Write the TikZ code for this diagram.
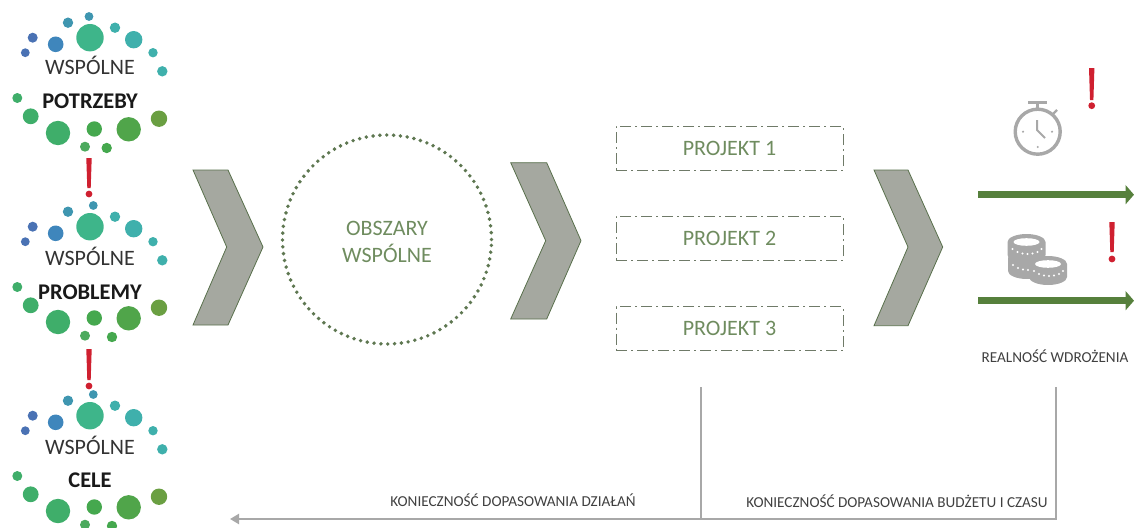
\documentclass[tikz,border=0pt]{standalone}
\usepackage{fontspec}
\setmainfont{Carlito}
\usetikzlibrary{arrows.meta}

\definecolor{dotblue}{HTML}{4A72B4}
\definecolor{dotsky}{HTML}{3F86BC}
\definecolor{dotsea}{HTML}{3F96B0}
\definecolor{dotteal}{HTML}{3FB0AC}
\definecolor{dotjade}{HTML}{3EB58A}
\definecolor{dotmint}{HTML}{3FAE6A}
\definecolor{dotleaf}{HTML}{45A84E}
\definecolor{dotmoss}{HTML}{6A9F42}
\definecolor{arrowgreen}{HTML}{56803C}
\definecolor{softgreen}{HTML}{6F8C5F}
\definecolor{boxgrey}{HTML}{6F7A68}
\definecolor{chevrongrey}{HTML}{A5A8A0}
\definecolor{iconline}{HTML}{A8A8A8}
\definecolor{alertred}{HTML}{CF2030}

\tikzset{
  wordblack/.style={font=\fontsize{22}{26}\selectfont,text=black!80},
  wordbold/.style={font=\fontsize{22.4}{26}\selectfont\bfseries,text=black!90},
  wordgreen/.style={font=\fontsize{22}{27}\selectfont,text=softgreen,align=center},
  wordsmall/.style={font=\fontsize{15.2}{18}\selectfont,text=black!75},
  chevron/.style={fill=chevrongrey,draw=softgreen!80!black,line width=0.8pt,line join=miter},
  projectbox/.style={draw=boxgrey,line width=1pt,dash pattern=on 11pt off 4pt on 2pt off 4pt,
    minimum width=227pt,minimum height=44pt,inner sep=0pt,wordgreen},
  greenarrow/.style={draw=arrowgreen,line width=6.5pt,-{Triangle[length=8.5pt,width=19pt]}},
  greyline/.style={draw=iconline,line width=2.4pt}
}

% tree of dots, #1 = shift down, #2 = x of top dot, #3 = x of lower right dot
\newcommand{\treedots}[3]{
  \begin{scope}[shift={(0,#1)}]
    \foreach \cx/\cy/\cr/\cc in {
      #2/16.5/4.4/dotsea, 68/22.7/5.2/dotsea, 115/27.7/5.2/dotteal, 32.7/37.7/5/dotblue,
      55.7/44.3/7.8/dotsky, 90/37.7/13.7/dotjade, 133.7/39.7/8.7/dotteal,
      25.3/52.7/4.4/dotblue, 153/52.7/4.7/dotteal, 162.3/71.3/5.2/dotteal,
      17.3/98/5/dotmint, 30.7/116.3/7.9/dotmint, 58/133/12.2/dotmint,
      94.3/129/7.7/dotleaf, 128.7/129.3/12.2/dotleaf!70!dotmoss, 159/118.7/8.2/dotmoss,
      85/146.7/5/dotmint!70!dotmoss, #3/148/5.2/dotleaf}
      \fill[\cc] (\cx,\cy) circle (\cr pt);
  \end{scope}
}

% exclamation mark, #1 = x, #2 = top of bar, #3 = foot of bar, #4 = centre of dot
\newcommand{\alertmark}[4]{
  \fill[alertred] (#1-2.7,#2) -- (#1+2.7,#2) -- (#1+1.7,#3) -- (#1-1.7,#3) -- cycle;
  \fill[alertred] (#1,#4) circle (3.4pt);
}

% coin seen from above, #1 = x, #2 = y of face
\newcommand{\coin}[2]{
  \fill[iconline] (#1-19,#2) arc[x radius=19pt,y radius=8pt,start angle=180,end angle=0]
    -- (#1+19,#2+13) arc[x radius=19pt,y radius=8pt,start angle=0,end angle=-180] -- cycle;
  \fill[white] (#1,#2) ellipse (13pt and 3.8pt);
  \foreach \dx/\dy in {-14/7,-9/10,-4/11.5,1/12,6/11.5,11/10,15/7}
    \fill[white] (#1+\dx,#2+\dy) circle (1.1pt);
}

\begin{document}
\begin{tikzpicture}[x=1pt,y=-1pt]
\useasboundingbox (0,0) rectangle (1134,527);

\treedots{0}{89}{106.7}
\treedots{189}{93.3}{112}
\treedots{378}{93.3}{112}

\node[wordblack] (wspolne1) at (90,65) {WSPÓLNE};
\node[wordbold] (potrzeby) at (90,101) {POTRZEBY};
\node[wordblack] (wspolne2) at (90,256) {WSPÓLNE};
\node[wordbold] (problemy) at (90,292) {PROBLEMY};
\node[wordblack] (wspolne3) at (90,445) {WSPÓLNE};
\node[wordbold] (cele) at (90,480) {CELE};

\alertmark{89}{158}{188}{194}
\alertmark{89}{349}{380}{386}
\alertmark{1091.7}{68}{100}{105.7}
\alertmark{1112}{222}{252}{259}

\draw[chevron] (193,170) -- (228,170) -- (263,247) -- (228,325) -- (193,325) -- (226.7,247) -- cycle;
\draw[chevron] (510.7,162.7) -- (546.7,162.7) -- (581,240.7) -- (546.7,319) -- (510.7,319) -- (545.7,240.7) -- cycle;
\draw[chevron] (874,170) -- (908,170) -- (942.7,247) -- (908,325.7) -- (874,325.7) -- (908,247) -- cycle;

\node[circle,draw=softgreen!85!black,line width=3.9pt,line cap=round,dash pattern=on 0pt off 6.85pt,
  minimum size=209pt,inner sep=0pt] (ring) at (387,239.5) {};
\node[wordgreen] (obszary) at (387,241.5) {OBSZARY\\WSPÓLNE};

\node[projectbox] (projekt1) at (729.5,148) {PROJEKT 1};
\node[projectbox] (projekt2) at (729.5,238) {PROJEKT 2};
\node[projectbox] (projekt3) at (729.5,328.7) {PROJEKT 3};

% stopwatch
\draw[iconline,line width=3.4pt] (1037.7,131.7) circle (22.5pt);
\draw[iconline,line width=3pt] (1037.7,109) -- (1037.7,102);
\draw[iconline,line width=3pt] (1028,102) -- (1047,102);
\draw[iconline,line width=2.4pt] (1052,115) -- (1057,110);
\draw[iconline,line width=2pt] (1037,120) -- (1037,130) -- (1045,138);
\foreach \tx/\ty in {1023/131.7,1052/131.7,1037.7/147}
  \fill[iconline] (\tx,\ty) circle (1.2pt);

% coins
\coin{1027}{258}
\coin{1026.5}{242}
\coin{1048}{264}

\coordinate (arrow1a) at (978,194.7);
\coordinate (arrow1b) at (1134,194.7);
\coordinate (arrow2a) at (978,300.7);
\coordinate (arrow2b) at (1134,300.7);
\draw[greenarrow] (arrow1a) -- (arrow1b);
\draw[greenarrow] (arrow2a) -- (arrow2b);

\node[wordsmall] (realnosc) at (1055,356.7) {REALNOŚĆ WDROŻENIA};

\coordinate (drop1) at (700.7,387);
\coordinate (drop2) at (1055.7,387);
\coordinate (corner1) at (700.7,519);
\coordinate (corner2) at (1055.7,519);
\coordinate (backend) at (230,519);
\draw[greyline] (drop1) -- (corner1);
\draw[greyline,-{Triangle[length=9pt,width=10pt]}] (drop2) -- (corner2) -- (backend);

\node[wordsmall] (dzialan) at (513,500) {KONIECZNOŚĆ DOPASOWANIA DZIAŁAŃ};
\node[wordsmall] (budzet) at (897,501.7) {KONIECZNOŚĆ DOPASOWANIA BUDŻETU I CZASU};
\end{tikzpicture}
\end{document}
